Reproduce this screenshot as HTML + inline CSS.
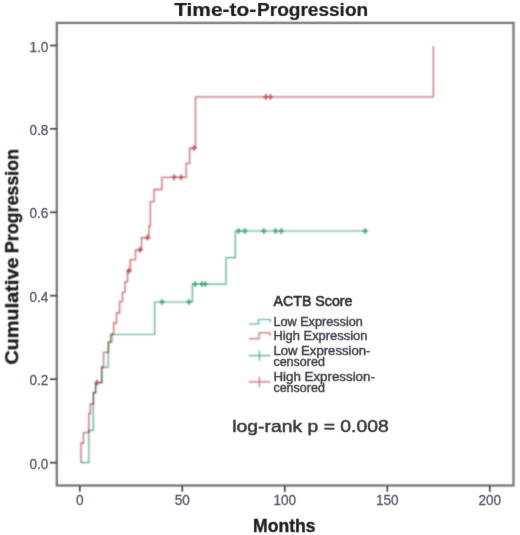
<!DOCTYPE html>
<html>
<head>
<meta charset="utf-8">
<style>
html,body{margin:0;padding:0;background:#fff;}
body{width:520px;height:535px;overflow:hidden;}
svg{display:block;}
text{font-family:"Liberation Sans",sans-serif;}
</style>
</head>
<body>
<svg width="520" height="535" viewBox="0 0 520 535">
<defs><filter id="bl" filterUnits="userSpaceOnUse" x="0" y="0" width="520" height="535"><feConvolveMatrix order="5" kernelMatrix="0.00048 0.00501 0.01095 0.00501 0.00048 0.00501 0.05222 0.11405 0.05222 0.00501 0.01095 0.11405 0.24912 0.11405 0.01095 0.00501 0.05222 0.11405 0.05222 0.00501 0.00048 0.00501 0.01095 0.00501 0.00048" edgeMode="none" preserveAlpha="false"/></filter><filter id="bt" filterUnits="userSpaceOnUse" x="0" y="0" width="520" height="535"><feConvolveMatrix order="5" kernelMatrix="0.00000 0.00000 0.00004 0.00000 0.00000 0.00000 0.00524 0.06191 0.00524 0.00000 0.00004 0.06191 0.73124 0.06191 0.00004 0.00000 0.00524 0.06191 0.00524 0.00000 0.00000 0.00000 0.00004 0.00000 0.00000" edgeMode="none" preserveAlpha="false"/></filter><filter id="bf" filterUnits="userSpaceOnUse" x="0" y="0" width="520" height="535"><feConvolveMatrix order="5" kernelMatrix="0.00001 0.00042 0.00170 0.00042 0.00001 0.00042 0.02740 0.10988 0.02740 0.00042 0.00170 0.10988 0.44065 0.10988 0.00170 0.00042 0.02740 0.10988 0.02740 0.00042 0.00001 0.00042 0.00170 0.00042 0.00001" edgeMode="none" preserveAlpha="false"/></filter></defs>
<rect x="0" y="0" width="520" height="535" fill="#fff"/>
<g filter="url(#bf)">
<rect x="56.8" y="22.9" width="456.7" height="462.6" fill="none" stroke="#787878" stroke-width="2.3"/>
<g stroke="#45454a" stroke-width="1.7"><line x1="50" y1="45.5" x2="57" y2="45.5"/><line x1="50" y1="128.8" x2="57" y2="128.8"/><line x1="50" y1="212.3" x2="57" y2="212.3"/><line x1="50" y1="295.7" x2="57" y2="295.7"/><line x1="50" y1="379.2" x2="57" y2="379.2"/><line x1="50" y1="462.7" x2="57" y2="462.7"/></g>
<g stroke="#45454a" stroke-width="1.7"><line x1="79.8" y1="485.5" x2="79.8" y2="491.8"/><line x1="182.3" y1="485.5" x2="182.3" y2="491.8"/><line x1="284.8" y1="485.5" x2="284.8" y2="491.8"/><line x1="387.3" y1="485.5" x2="387.3" y2="491.8"/><line x1="489.8" y1="485.5" x2="489.8" y2="491.8"/></g>
</g>
<g filter="url(#bl)">
<path fill="none" stroke="#4cab80" stroke-width="1.2" d="M81,462.7 H88.8 V430.4 H93.3 V392.6 H95.6 V382.6 H101.9 V367.3 H108.2 V342 H110.5 V334.5 H154.7 V302 H192.4 V284.1 H226 V257.6 H235.3 V231 H367.5"/>
<path fill="none" stroke="#359a6c" stroke-width="1.5" d="M159.3,302.0H164.9M162.1,299.1V304.9M186.2,302.0H191.8M189.0,299.1V304.9M192.3,284.1H197.9M195.1,281.2V287.0M199.0,284.1H204.6M201.8,281.2V287.0M202.4,284.1H208.0M205.2,281.2V287.0M235.8,231.0H241.4M238.6,228.1V233.9M242.1,231.0H247.7M244.9,228.1V233.9M261.0,231.0H266.6M263.8,228.1V233.9M272.7,231.0H278.3M275.5,228.1V233.9M278.5,231.0H284.1M281.3,228.1V233.9M362.4,231.0H368.0M365.2,228.1V233.9"/>
<path fill="none" stroke="#c66770" stroke-width="1.3" style="mix-blend-mode:multiply" d="M81,462.7 V443 H83.5 V432.7 H88.8 V413.5 H90.4 V404 H93.5 V392.6 H95.6 V382.6 H101.6 V366.8 H103.6 V352.3 H108.6 V342.2 H111.8 V334 H113.7 V323 H116.5 V313 H119.6 V301.4 H122.5 V292.3 H125 V281.8 H127.5 V270.7 H130.3 V259.6 H135.5 V249.8 H141.5 V237.7 H149 V226 H150.3 V201.7 H154 V189.5 H161.9 V177.3 H186.2 V163.4 H189.6 V148.1 H195.5 V96.9 H433.4 V46"/>
<path fill="none" stroke="#b8454f" stroke-width="1.5" d="M94.4,382.6H100.0M97.2,379.7V385.5M126.2,270.7H131.8M129.0,267.8V273.6M137.3,249.8H142.9M140.1,246.9V252.7M144.7,237.7H150.3M147.5,234.8V240.6M171.4,177.3H177.0M174.2,174.4V180.2M178.4,177.3H184.0M181.2,174.4V180.2M191.2,148.1H196.8M194.0,145.2V151.0M263.0,96.9H268.6M265.8,94.0V99.8M267.6,96.9H273.2M270.4,94.0V99.8"/>
<path fill="none" stroke="#4cab80" stroke-width="1.15" d="M249,324 H258.7 V319.5 H270.2 V322.5"/>
<path fill="none" stroke="#c66770" stroke-width="1.15" d="M249,338.6 H259 V332.8 H270.2 V336"/>
<path fill="none" stroke="#4cab80" stroke-width="1.15" d="M248.6,355.6 H270.2 M259.4,350.3 V361"/>
<path fill="none" stroke="#c66770" stroke-width="1.15" d="M248.6,381.9 H270.2 M259.4,376.5 V387.3"/>
</g>
<g filter="url(#bt)">
<g font-size="18" font-weight="bold" fill="#1c1c1c" stroke="#1c1c1c" stroke-width="0.2"><text x="174.2" y="16.3" textLength="82" lengthAdjust="spacingAndGlyphs">Time-to-</text><text x="257" y="16.3" textLength="111.2" lengthAdjust="spacingAndGlyphs">Progression</text></g>
<g font-size="14.8" fill="#50566a" stroke="#50566a" stroke-width="0.3" text-anchor="end"><text x="48.4" y="51.6" textLength="18.9" lengthAdjust="spacingAndGlyphs">1.0</text><text x="48.4" y="134.9" textLength="18.9" lengthAdjust="spacingAndGlyphs">0.8</text><text x="48.4" y="218.4" textLength="18.9" lengthAdjust="spacingAndGlyphs">0.6</text><text x="48.4" y="301.8" textLength="18.9" lengthAdjust="spacingAndGlyphs">0.4</text><text x="48.4" y="385.3" textLength="18.9" lengthAdjust="spacingAndGlyphs">0.2</text><text x="48.4" y="468.8" textLength="18.9" lengthAdjust="spacingAndGlyphs">0.0</text></g>
<g font-size="14.8" fill="#50566a" stroke="#50566a" stroke-width="0.3" text-anchor="middle"><text x="79.8" y="505.3" textLength="7.56" lengthAdjust="spacingAndGlyphs">0</text><text x="182.3" y="505.3" textLength="15.12" lengthAdjust="spacingAndGlyphs">50</text><text x="284.8" y="505.3" textLength="22.68" lengthAdjust="spacingAndGlyphs">100</text><text x="387.3" y="505.3" textLength="22.68" lengthAdjust="spacingAndGlyphs">150</text><text x="489.8" y="505.3" textLength="22.68" lengthAdjust="spacingAndGlyphs">200</text></g>
<text x="253" y="531.5" font-size="18" font-weight="bold" fill="#1c1c1c" stroke="#1c1c1c" stroke-width="0.35" textLength="62.5" lengthAdjust="spacingAndGlyphs">Months</text>
<g transform="translate(18.2,364.6) rotate(-90)" font-size="18" font-weight="bold" fill="#1c1c1c" stroke="#1c1c1c" stroke-width="0.35"><text x="0" y="0" textLength="107" lengthAdjust="spacingAndGlyphs">Cumulative</text><text x="111.6" y="0" textLength="104" lengthAdjust="spacingAndGlyphs">Progression</text></g>
<text x="273.5" y="305.8" font-size="14" fill="#2a2a30" stroke="#2a2a30" stroke-width="0.55" textLength="79" lengthAdjust="spacingAndGlyphs">ACTB Score</text>
<g font-size="12" fill="#3c3c44" stroke="#3c3c44" stroke-width="0.4"><text x="273.4" y="326.2" textLength="89.4" lengthAdjust="spacingAndGlyphs">Low Expression</text><text x="273.4" y="340.2" textLength="94" lengthAdjust="spacingAndGlyphs">High Expression</text><text x="273.4" y="355.2" textLength="97" lengthAdjust="spacingAndGlyphs">Low Expression-</text><text x="273.4" y="366.4" textLength="51.5" lengthAdjust="spacingAndGlyphs">censored</text><text x="273.4" y="381" textLength="101.5" lengthAdjust="spacingAndGlyphs">High Expression-</text><text x="273.4" y="392.3" textLength="51.5" lengthAdjust="spacingAndGlyphs">censored</text></g>
<text x="232.3" y="432.3" font-size="17" fill="#333338" stroke="#333338" stroke-width="0.45" textLength="156.4" lengthAdjust="spacingAndGlyphs">log-rank p = 0.008</text>
</g>
</svg>
</body>
</html>
